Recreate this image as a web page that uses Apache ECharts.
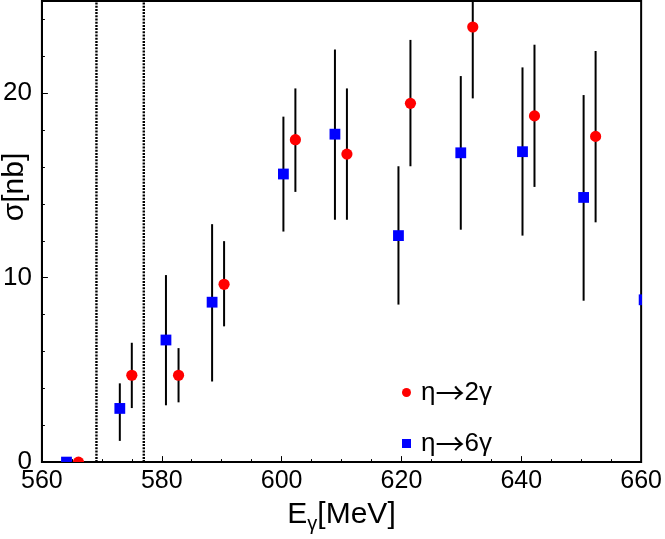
<!DOCTYPE html>
<html>
<head>
<meta charset="utf-8">
<script src="https://cdn.jsdelivr.net/npm/echarts@6/dist/echarts.min.js"></script>
<style>
html,body{margin:0;padding:0;background:#fff;}
#chart{width:665px;height:539px;}
</style>
</head>
<body>
<div id="chart"></div>
<script>
// η→2γ data
var eta2gX  = [566.1, 575.0, 582.8, 590.4, 602.3, 610.9, 621.5, 631.9, 642.2, 652.4];
var eta2gY  = [0, 4.71, 4.71, 9.64, 17.48, 16.70, 19.45, 23.59, 18.77, 17.66];
var eta2gLo = [0, 2.93, 3.24, 7.36, 14.65, 13.14, 16.04, 19.72, 14.92, 13.00];
var eta2gHi = [0, 6.47, 6.18, 11.98, 20.26, 20.26, 22.89, 27.46, 22.63, 22.29];
// η→6γ data
var eta6gX  = [564.1, 573.0, 580.7, 588.4, 600.3, 608.9, 619.5, 629.9, 640.2, 650.4, 660.5];
var eta6gY  = [0, 2.91, 6.62, 8.67, 15.62, 17.78, 12.28, 16.77, 16.83, 14.35, 8.80];
var eta6gLo = [0, 1.15, 3.08, 4.37, 12.50, 13.14, 8.54, 12.60, 12.28, 8.75, 4.50];
var eta6gHi = [0, 4.27, 10.14, 12.90, 18.73, 22.37, 16.04, 20.93, 21.40, 19.90, 13.10];
// threshold lines
var thresholds = [569.1, 577.0];
// axis ticks
var xMin = 560, xMax = 660, xStep = 20;
var yMin = 0, yMax = 25, yStep = 10, yMinorStep = 2;

var FONT = '"Liberation Sans", Arial, Helvetica, sans-serif';

function zip(xs, ys, lo, hi) {
  return xs.map(function (x, i) { return [x, ys[i], lo[i], hi[i]]; });
}
var d2 = zip(eta2gX, eta2gY, eta2gLo, eta2gHi);
var d6 = zip(eta6gX, eta6gY, eta6gLo, eta6gHi);

function errRender(params, api) {
  var x = api.value(0);
  if (api.value(3) - api.value(2) <= 0) return null;
  var lo = api.coord([x, api.value(2)]);
  var hi = api.coord([x, api.value(3)]);
  return {
    type: 'line',
    shape: { x1: lo[0], y1: lo[1], x2: hi[0], y2: hi[1] },
    style: { stroke: '#000', lineWidth: 2 }
  };
}
function thrRender(params, api) {
  var x = api.value(0);
  var lo = api.coord([x, yMin]);
  var hi = api.coord([x, yMax]);
  return {
    type: 'line',
    shape: { x1: lo[0], y1: lo[1], x2: hi[0], y2: hi[1] },
    style: { stroke: '#000', lineWidth: 2.4, lineDash: [2, 1.2] }
  };
}
function circleRender(params, api) {
  var p = api.coord([api.value(0), api.value(1)]);
  return { type: 'circle', shape: { cx: p[0], cy: p[1], r: 5.6 }, style: { fill: '#ff0000' } };
}
function rectRender(params, api) {
  var p = api.coord([api.value(0), api.value(1)]);
  return { type: 'rect', shape: { x: p[0] - 5.4, y: p[1] - 5.4, width: 10.8, height: 10.8 }, style: { fill: '#0000ff' } };
}

var chart = echarts.init(document.getElementById('chart'), null, { renderer: 'canvas' });
chart.setOption({
  animation: false,
  backgroundColor: '#fff',
  grid: { left: 41, right: 21, top: 1, bottom: 75, show: true, borderColor: '#000', borderWidth: 2, backgroundColor: 'transparent' },
  legend: {
    orient: 'vertical',
    left: 397, top: 373,
    itemWidth: 9, itemHeight: 9, itemGap: 22,
    formatter: function (name) {
      var parts = name.split('→');
      return '{t|' + parts[0] + '}{r|→}{t|' + parts[1] + '}';
    },
    textStyle: {
      fontFamily: FONT, fontSize: 26, color: '#000', lineHeight: 24, padding: [0, 0, 0, 5],
      rich: {
        t: { fontFamily: FONT, fontSize: 26, color: '#000', lineHeight: 24 },
        r: { fontFamily: '"Noto Sans CJK JP", "DejaVu Sans", sans-serif', fontSize: 29, color: '#000', lineHeight: 24 }
      }
    },
    data: [
      { name: 'η→2γ', icon: 'circle' },
      { name: 'η→6γ', icon: 'rect' }
    ]
  },
  xAxis: [
    {
      type: 'value', position: 'bottom', min: xMin, max: xMax, interval: xStep,
      axisLine: { show: true, onZero: false, lineStyle: { color: '#000', width: 2 } },
      axisTick: { show: true, inside: true, length: 6, lineStyle: { color: '#000', width: 1 } },
      minorTick: { show: true, splitNumber: 4, length: 3, lineStyle: { color: '#000', width: 1 } },
      splitLine: { show: false },
      axisLabel: { fontFamily: FONT, fontSize: 25, color: '#000', margin: 7 },
      name: '{a|E}{s|γ}{a|[MeV]}',
      nameLocation: 'middle', nameGap: 35,
      nameTextStyle: {
        rich: {
          a: { fontFamily: FONT, fontSize: 30, color: '#000', lineHeight: 29, verticalAlign: 'top' },
          s: { fontFamily: FONT, fontSize: 20, color: '#000', lineHeight: 34, verticalAlign: 'bottom', padding: [15, 0, 0, 0] }
        }
      }
    }
  ],
  yAxis: [
    {
      type: 'value', position: 'left', min: yMin, max: yMax, interval: yStep,
      axisLine: { show: true, onZero: false, lineStyle: { color: '#000', width: 2 } },
      axisTick: { show: true, inside: true, length: 6, lineStyle: { color: '#000', width: 1 } },
      splitLine: { show: false },
      axisLabel: { fontFamily: FONT, fontSize: 26, color: '#000', margin: 10, showMaxLabel: false }
    },
    {
      type: 'value', position: 'left', min: yMin, max: yMax, interval: yMinorStep,
      axisLine: { show: false },
      axisTick: { show: true, inside: true, length: 3, lineStyle: { color: '#000', width: 1 } },
      splitLine: { show: false },
      axisLabel: { show: false }
    }
  ],
  graphic: [
    {
      type: 'text', x: 15, y: 187, rotation: Math.PI / 2,
      style: { text: 'σ[nb]', fontFamily: FONT, fontSize: 30, fill: '#000', align: 'center', verticalAlign: 'middle' }
    }
  ],
  series: [
    { type: 'custom', name: 'thr', clip: true, renderItem: thrRender, data: thresholds.map(function (t) { return [t]; }), encode: { x: 0 } },
    { type: 'custom', name: 'err2', clip: true, renderItem: errRender, data: d2, encode: { x: 0, y: 1 } },
    { type: 'custom', name: 'err6', clip: true, renderItem: errRender, data: d6, encode: { x: 0, y: 1 } },
    { type: 'custom', name: 'η→6γ', clip: true, renderItem: rectRender, data: d6, encode: { x: 0, y: 1 }, itemStyle: { color: '#0000ff' } },
    { type: 'custom', name: 'η→2γ', clip: true, renderItem: circleRender, data: d2, encode: { x: 0, y: 1 }, itemStyle: { color: '#ff0000' } }
  ]
});
</script>
</body>
</html>
